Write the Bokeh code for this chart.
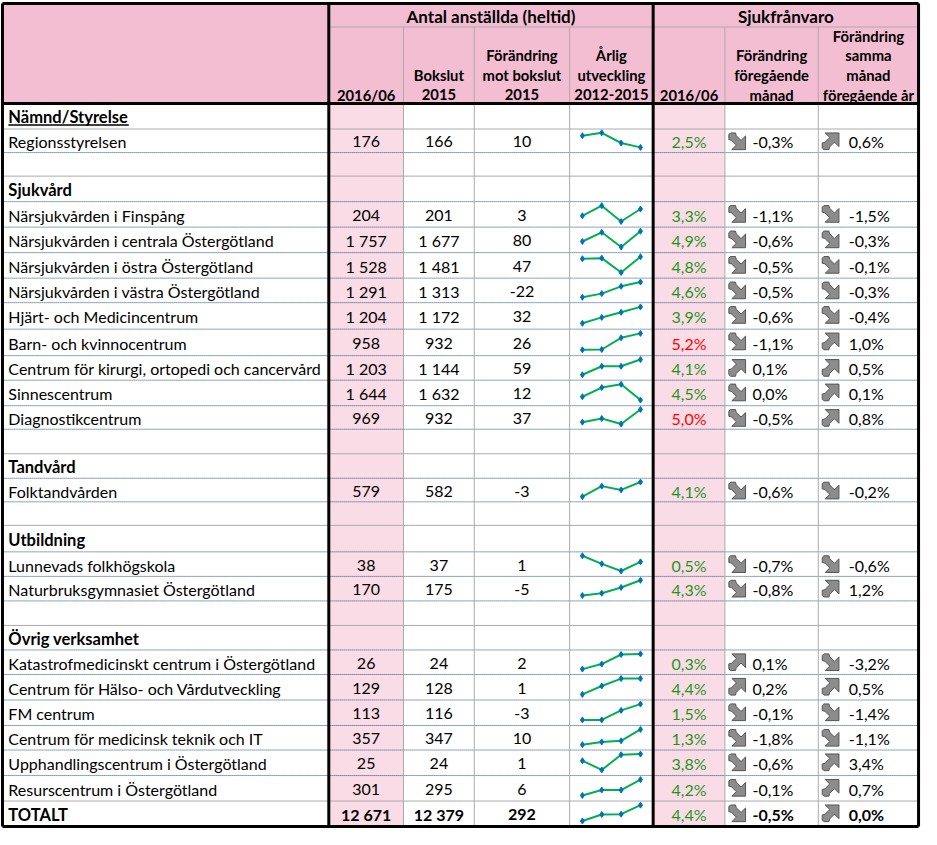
from bokeh.plotting import figure
from bokeh.models import Range1d, ColumnDataSource
from bokeh.core.properties import value
from bokeh.embed import file_html
from bokeh.resources import INLINE

# ---------------- data ----------------
section_names = ["Nämnd/Styrelse", "Sjukvård", "Tandvård", "Utbildning", "Övrig verksamhet"]

units = ["Regionsstyrelsen",
         "Närsjukvården i Finspång", "Närsjukvården i centrala Östergötland",
         "Närsjukvården i östra Östergötland", "Närsjukvården i västra Östergötland",
         "Hjärt- och Medicincentrum", "Barn- och kvinnocentrum",
         "Centrum för kirurgi, ortopedi och cancervård", "Sinnescentrum", "Diagnostikcentrum",
         "Folktandvården",
         "Lunnevads folkhögskola", "Naturbruksgymnasiet Östergötland",
         "Katastrofmedicinskt centrum i Östergötland", "Centrum för Hälso- och Vårdutveckling",
         "FM centrum", "Centrum för medicinsk teknik och IT",
         "Upphandlingscentrum i Östergötland", "Resurscentrum i Östergötland",
         "TOTALT"]
unit_section = [0, 1, 1, 1, 1, 1, 1, 1, 1, 1, 2, 3, 3, 4, 4, 4, 4, 4, 4, None]

staff_2016_06 = [176, 204, 1757, 1528, 1291, 1204, 958, 1203, 1644, 969, 579, 38, 170,
                 26, 129, 113, 357, 25, 301, 12671]
staff_bokslut_2015 = [166, 201, 1677, 1481, 1313, 1172, 932, 1144, 1632, 932, 582, 37, 175,
                      24, 128, 116, 347, 24, 295, 12379]
staff_change = [10, 3, 80, 47, -22, 32, 26, 59, 12, 37, -3, 1, -5, 2, 1, -3, 10, 1, 6, 292]

# yearly trend 2012-2015 (relative shape read from the sparklines, 0 = low, 1 = high)
trend = [[0.8, 1.0, 0.3, 0.0], [0.36, 1.0, 0.0, 0.79], [0.35, 0.93, 0.0, 1.0],
         [0.87, 0.91, 0.0, 1.0], [0.0, 0.24, 0.72, 1.0], [0.0, 0.36, 0.67, 1.0],
         [0.0, 0.02, 0.73, 1.0], [0.0, 0.56, 0.56, 1.0], [0.21, 0.79, 1.0, 0.0],
         [0.13, 0.38, 0.0, 1.0], [0.0, 0.72, 0.46, 1.0], [1.0, 0.47, 0.0, 0.6],
         [0.0, 0.15, 0.53, 1.0], [0.0, 0.33, 0.96, 1.0], [0.0, 0.53, 1.0, 1.0],
         [0.0, 0.0, 0.6, 1.0], [0.0, 0.18, 0.25, 1.0], [0.58, 0.0, 0.96, 1.0],
         [0.0, 0.34, 0.34, 1.0], [0.0, 0.41, 0.43, 1.0]]

sick_2016_06 = [2.5, 3.3, 4.9, 4.8, 4.6, 3.9, 5.2, 4.1, 4.5, 5.0, 4.1, 0.5, 4.3,
                0.3, 4.4, 1.5, 1.3, 3.8, 4.2, 4.4]
sick_chg_month = [-0.3, -1.1, -0.6, -0.5, -0.5, -0.6, -1.1, 0.1, 0.0, -0.5, -0.6, -0.7, -0.8,
                  0.1, 0.2, -0.1, -1.8, -0.6, -0.1, -0.5]
sick_dir_month = ["down", "down", "down", "down", "down", "down", "down", "up", "down", "down",
                  "down", "down", "down", "up", "up", "down", "down", "down", "down", "down"]
sick_chg_year = [0.6, -1.5, -0.3, -0.1, -0.3, -0.4, 1.0, 0.5, 0.1, 0.8, -0.2, -0.6, 1.2,
                 -3.2, 0.5, -1.4, -1.1, 3.4, 0.7, 0.0]
sick_dir_year = ["up", "down", "down", "down", "down", "down", "up", "up", "up", "up",
                 "down", "down", "up", "down", "up", "down", "down", "up", "up", "up"]

group_header = "Antal anställda (heltid)"
group_header2 = "Sjukfrånvaro"
col_headers = [["2016/06"], ["Bokslut", "2015"], ["Förändring", "mot bokslut", "2015"],
               ["Årlig", "utveckling", "2012-2015"], ["2016/06"],
               ["Förändring", "föregående", "månad"],
               ["Förändring", "samma", "månad", "föregående år"]]

# ---------------- layout (reference pixel space) ----------------
FONT = "Lato"
FS = "16px"
FS_HEAD = "14.8px"
FS_GROUP = "17px"
FS_SECTION = "16.5px"
PINK = "#F3BDD2"
LIGHT_PINK = "#FADCE6"
GRID = "#ABABAB"
DOT = "#1F4E79"
GREEN = "#1E961E"
RED = "#FF0000"

X_LEFT, X_RIGHT = 2, 934
Y_TOP, Y_HEAD, Y_BOTTOM = 3, 105, 842
Y_SUB = 27
col_edges = [334, 410, 482, 579, 664, 737, 832, 934]
thick_x = [334, 664]
gray_x = [410, 482, 579, 737, 832]
row_edges = [105, 131, 155, 179, 205, 231, 257, 283, 308, 335, 362, 387, 413, 437, 462,
             487, 511, 535, 562, 587, 612, 637, 662, 687, 713, 739, 764, 790, 816, 842]

# build row list: (kind, index)
rows = []
for s, name in enumerate(section_names):
    if s > 0:
        rows.append(("empty", None))
    rows.append(("section", s))
    for i, us in enumerate(unit_section):
        if us == s:
            rows.append(("unit", i))
rows.append(("unit", len(units) - 1))

p = figure(width=921, height=829, x_range=Range1d(0, 937), y_range=Range1d(845, 0),
           output_backend="svg", toolbar_location=None, min_border=0)
p.axis.visible = False
p.grid.visible = False
p.outline_line_color = None
p.background_fill_color = "white"

# backgrounds
p.quad(left=[X_LEFT], right=[X_RIGHT], top=[Y_TOP], bottom=[Y_HEAD], fill_color=PINK, line_color=None)
p.quad(left=[col_edges[0], col_edges[4]], right=[col_edges[1], col_edges[5]],
       top=[Y_HEAD, Y_HEAD], bottom=[Y_BOTTOM, Y_BOTTOM], fill_color=LIGHT_PINK, line_color=None)

# horizontal separators
gray_ys, dot_ys = [], []
for k, (kind, idx) in enumerate(rows):
    yb = row_edges[k + 1]
    if yb == Y_BOTTOM:
        continue
    if kind == "empty" or k == 0 or rows[k + 1] == ("unit", len(units) - 1):
        gray_ys.append(yb)
    else:
        dot_ys.append(yb)

p.segment(x0=[X_LEFT] * len(gray_ys), x1=[X_RIGHT] * len(gray_ys), y0=gray_ys, y1=gray_ys,
          line_color=GRID, line_width=1)
p.segment(x0=[X_LEFT] * len(dot_ys), x1=[X_RIGHT] * len(dot_ys), y0=dot_ys, y1=dot_ys,
          line_color=DOT, line_width=1, line_dash="1 1")
# gray verticals + header sub line
p.segment(x0=gray_x, x1=gray_x, y0=[Y_SUB] * len(gray_x), y1=[Y_BOTTOM] * len(gray_x),
          line_color=GRID, line_width=1)
p.segment(x0=[col_edges[0]], x1=[X_RIGHT], y0=[Y_SUB], y1=[Y_SUB], line_color=GRID, line_width=1)

# thick frame
p.segment(x0=[X_LEFT, X_LEFT, X_LEFT, X_LEFT, X_RIGHT] + thick_x,
          x1=[X_RIGHT, X_RIGHT, X_RIGHT, X_LEFT, X_RIGHT] + thick_x,
          y0=[Y_TOP, Y_HEAD, Y_BOTTOM, Y_TOP, Y_TOP] + [Y_TOP] * 2,
          y1=[Y_TOP, Y_HEAD, Y_BOTTOM, Y_BOTTOM, Y_BOTTOM] + [Y_BOTTOM] * 2,
          line_color="black", line_width=3)

centers = [(col_edges[i] + col_edges[i + 1]) / 2 for i in range(7)]

# header text
p.text(x=[(col_edges[0] + col_edges[4]) / 2, (col_edges[4] + col_edges[7]) / 2], y=[16, 16],
       text=[group_header, group_header2], text_font=value(FONT), text_font_size=FS_GROUP,
       text_font_style="bold", text_align="center", text_baseline="middle", text_color="black")
hx, hy, ht = [], [], []
for ci, lines in enumerate(col_headers):
    n = len(lines)
    for li, t in enumerate(lines):
        hx.append(centers[ci])
        hy.append(96 - 20 * (n - 1 - li))
        ht.append(t)
p.text(x=hx, y=hy, text=ht, text_font=value(FONT), text_font_size=FS_HEAD, text_font_style="bold",
       text_align="center", text_baseline="middle", text_color="black")


def fmt_int(v):
    s = f"{abs(v):,}".replace(",", " ")
    return ("-" if v < 0 else "") + s


def fmt_pct(v, lead_space=False):
    s = f"{v:.1f}".replace(".", ",") + "%"
    if lead_space and not s.startswith("-"):
        s = " " + s
    return s


# arrow icon template pointing down-right, unit box, y downwards
ARROW = [(1.0, 0.18), (1.0, 1.0), (0.18, 1.0), (0.45, 0.73), (0.16, 0.44), (0.0, 0.40),
         (0.0, 0.10), (0.10, 0.0), (0.40, 0.0), (0.44, 0.16), (0.73, 0.45)]


def arrow_poly(x0, y0, size, direction):
    xs, ys = [], []
    for (u, v) in ARROW:
        if direction == "up":
            v = 1.0 - v
        xs.append(x0 + u * size)
        ys.append(y0 + v * size)
    return xs, ys


lab_n = dict(x=[], y=[], t=[])
lab_b = dict(x=[], y=[], t=[])
num = dict(x=[], y=[], t=[], style=[])
pct = dict(x=[], y=[], t=[], c=[])
chg = dict(x=[], y=[], t=[], style=[])
spark_xs, spark_ys = [], []
ax, ay = [], []
ul = []
for k, (kind, idx) in enumerate(rows):
    top, bot = row_edges[k], row_edges[k + 1]
    h = bot - top
    ym = (top + bot) / 2 + 1
    if kind == "section":
        lab_b["x"].append(8); lab_b["y"].append(ym); lab_b["t"].append(section_names[idx])
        if idx == 0:
            ul.append((8, 8 + 8.75 * len(section_names[idx]), ym + 8))
    elif kind == "unit":
        total = idx == len(units) - 1
        st = "bold" if total else "normal"
        d = lab_b if total else lab_n
        d["x"].append(8); d["y"].append(ym); d["t"].append(units[idx])
        for ci, vals in enumerate([staff_2016_06, staff_bokslut_2015, staff_change]):
            num["x"].append(centers[ci]); num["y"].append(ym)
            num["t"].append(fmt_int(vals[idx])); num["style"].append(st)
        pct["x"].append(centers[4]); pct["y"].append(ym)
        pct["t"].append(fmt_pct(sick_2016_06[idx]))
        pct["c"].append(RED if sick_2016_06[idx] >= 5.0 else GREEN)
        for cx, vals in [(765, sick_chg_month), (863, sick_chg_year)]:
            chg["x"].append(cx); chg["y"].append(ym)
            chg["t"].append(fmt_pct(vals[idx], lead_space=True)); chg["style"].append(st)
        xs0 = col_edges[3] + 13
        spark_xs.append([xs0 + j * 19.7 for j in range(4)])
        spark_ys.append([top + h * (0.78 - 0.62 * v) for v in trend[idx]])
        for x0, dr in [(col_edges[5] + 4, sick_dir_month[idx]), (col_edges[6] + 4, sick_dir_year[idx])]:
            px, py = arrow_poly(x0, top + 4, 17, dr)
            ax.append(px); ay.append(py)

p.text(x="x", y="y", text="t", source=ColumnDataSource(lab_b), text_font_style="bold",
       text_font=value(FONT), text_font_size=FS_SECTION, text_align="left", text_baseline="middle",
       text_color="black")
p.text(x="x", y="y", text="t", source=ColumnDataSource(lab_n),
       text_font=value(FONT), text_font_size=FS, text_align="left", text_baseline="middle",
       text_color="black")
for (x0, x1, yy) in ul:
    p.segment(x0=[x0], x1=[x1], y0=[yy], y1=[yy], line_color="black", line_width=1.5)

for st in ["normal", "bold"]:
    sel = [i for i, s in enumerate(num["style"]) if s == st]
    p.text(x=[num["x"][i] for i in sel], y=[num["y"][i] for i in sel], text=[num["t"][i] for i in sel],
           text_font=value(FONT), text_font_size=FS, text_font_style=st, text_align="center",
           text_baseline="middle", text_color="black")
    sel = [i for i, s in enumerate(chg["style"]) if s == st]
    p.text(x=[chg["x"][i] for i in sel], y=[chg["y"][i] for i in sel], text=[chg["t"][i] for i in sel],
           text_font=value(FONT), text_font_size=FS, text_font_style=st, text_align="left",
           text_baseline="middle", text_color="black")

p.text(x="x", y="y", text="t", text_color="c", source=ColumnDataSource(pct), text_font=value(FONT),
       text_font_size=FS, text_align="center", text_baseline="middle")

# sparklines
p.multi_line(xs=spark_xs, ys=spark_ys, line_color="#00B050", line_width=2)
mx = [x for xs in spark_xs for x in xs]
my = [y for ys in spark_ys for y in ys]
p.scatter(x=mx, y=my, marker="diamond", size=6, fill_color="#0070C0", line_color="#0070C0")

# arrows
p.patches(xs=ax, ys=ay, fill_color="#8C8C8C", line_color="#555555", line_width=1)

open("out.html", "w").write(file_html(p, INLINE))
